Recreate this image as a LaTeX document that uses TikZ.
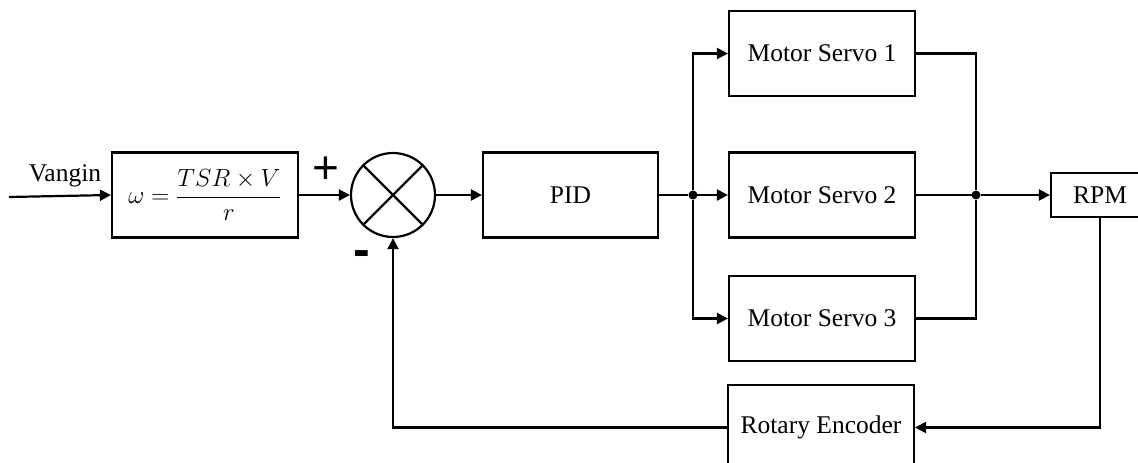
\documentclass[tikz,border=0pt]{standalone}
\usepackage{amsmath}
\usepackage{fontspec}
\setmainfont{Liberation Serif}
\newfontfamily\signfont{Liberation Sans}
\usetikzlibrary{arrows.meta,positioning}
\tikzset{
  block/.style={draw, line width=2.2pt, minimum width=186pt, minimum height=85pt, inner sep=0pt, font=\fontsize{25.5}{30}\selectfont},
  wire/.style={line width=2.2pt},
  link/.style={wire, -{Triangle[length=11pt,width=11pt]}},
  junc/.style={circle, fill, inner sep=0pt, minimum size=9pt},
}

\begin{document}
\begin{tikzpicture}[x=1pt, y=-1pt]
\useasboundingbox (0,0) rectangle (1138,463);
% blocks
\node[block, font=\fontsize{24}{28}\selectfont] (frm) at (205,195) {$\omega=\dfrac{TSR\times V}{r}$};
\node[circle, draw, line width=2.2pt, minimum size=84pt, inner sep=0pt] (sum) at (393,195) {};
\draw[wire] (sum.45) -- (sum.225) (sum.135) -- (sum.-45);
\node[block, minimum width=175pt] (pid) at (570.5,195) {PID};
\foreach \i/\y in {1/53.5, 2/195, 3/318.5} {
  \node[block] (ms\i) at (822,\y) {Motor Servo \i};
}
\node[block, minimum width=98pt, minimum height=44pt] (rpm) at (1100,195) {RPM};
\node[block] (enc) at (821,427.5) {Rotary Encoder};
\coordinate (in) at (9,197);
\node[junc] (split) at (693,195) {};
\node[junc] (join) at (976,195) {};
% labels
\node[font=\fontsize{25.5}{30}\selectfont] (vin) at (65,176) {Vangin};
\node[font=\signfont\fontsize{46}{46}\selectfont] (plus) at (326,170) {+};
\node[font=\signfont\bfseries\fontsize{50}{50}\selectfont] (minus) at (362,259) {-};
% connectors
\draw[link] (in) -- (frm.west);
\draw[link] (frm) -- (sum);
\draw[link] (sum) -- (pid);
\draw[wire] (pid) -- (split);
\foreach \i in {1,2,3} {
  \draw[link] (split) |- (ms\i.west);
  \draw[wire] (ms\i.east) -| (join);
}
\draw[link] (join) -- (rpm);
\draw[link] (rpm.south) |- (enc.east);
\draw[link] (enc.west) -| (sum.south);
\end{tikzpicture}
\end{document}
